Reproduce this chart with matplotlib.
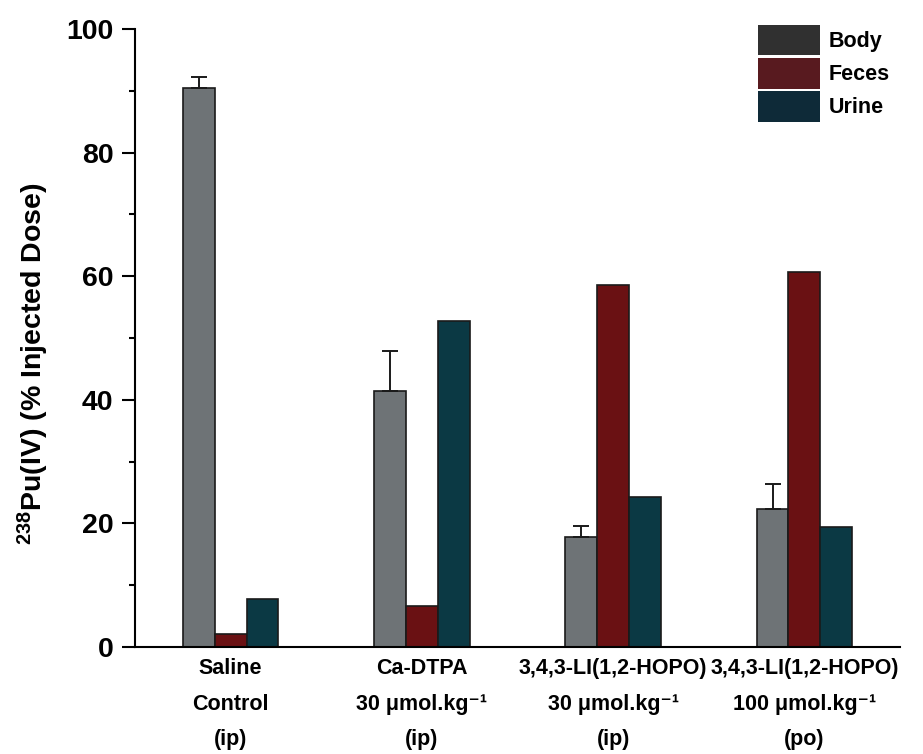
import matplotlib
matplotlib.use("Agg")
import matplotlib.pyplot as plt
import numpy as np
from matplotlib.patches import Patch

plt.rcParams['font.family'] = ['Liberation Sans', 'DejaVu Sans']
plt.rcParams['font.weight'] = 'bold'
plt.rcParams['mathtext.fontset'] = 'custom'
plt.rcParams['mathtext.rm'] = 'Liberation Sans:bold'
plt.rcParams['mathtext.bf'] = 'Liberation Sans:bold'
plt.rcParams['mathtext.it'] = 'Liberation Sans:bold'
plt.rcParams['mathtext.default'] = 'bf'

# Treatment groups
groups = [
    "Saline\nControl\n(ip)",
    "Ca-DTPA\n30 \u03bcmol.kg\u207b\u00b9\n(ip)",
    "3,4,3-LI(1,2-HOPO)\n30 \u03bcmol.kg\u207b\u00b9\n(ip)",
    "3,4,3-LI(1,2-HOPO)\n100 \u03bcmol.kg\u207b\u00b9\n(po)",
]

# Retained / excreted Pu, % of injected dose
body = [90.4, 41.4, 17.8, 22.3]
body_err = [1.8, 6.5, 1.7, 4.0]
feces = [2.1, 6.6, 58.6, 60.6]
urine = [7.7, 52.7, 24.2, 19.4]

series_names = ["Body", "Feces", "Urine"]

bar_colors = ["#6e7376", "#6a1113", "#0b3944"]
key_colors = ["#303030", "#581a1f", "#0e2a38"]

fig = plt.figure(figsize=(9.23, 7.54), dpi=100)
ax = fig.add_axes([135 / 923, 1 - 647 / 754, 765 / 923, 618 / 754])

x = np.arange(len(groups))
w = 1 / 6

ax.bar(x - w, body, w, color=bar_colors[0], edgecolor="#1a1a1a", linewidth=1.2,
       yerr=[np.zeros(len(body)), body_err],
       error_kw=dict(ecolor="#1a1a1a", elinewidth=1.4, capsize=6, capthick=1.4))
ax.bar(x, feces, w, color=bar_colors[1], edgecolor="#1a1a1a", linewidth=1.2)
ax.bar(x + w, urine, w, color=bar_colors[2], edgecolor="#1a1a1a", linewidth=1.2)

ax.set_xlim(-0.5, len(groups) - 0.5)
ax.set_ylim(0, 100)
ax.set_yticks(np.arange(0, 101, 20))
ax.set_yticks(np.arange(10, 100, 20), minor=True)
ax.set_xticks(x)
ax.set_xticklabels(groups, fontsize=15.5, fontweight="bold", linespacing=1.9)

ax.spines["top"].set_visible(False)
ax.spines["right"].set_visible(False)
ax.spines["left"].set_linewidth(1.5)
ax.spines["bottom"].set_linewidth(1.5)

ax.tick_params(axis="y", which="major", length=9.5, width=1.5, direction="out",
               labelsize=20.5, pad=6)
ax.tick_params(axis="y", which="minor", length=4.5, width=1.5, direction="out")
ax.tick_params(axis="x", length=0, pad=8)
for lab in ax.get_yticklabels():
    lab.set_fontweight("bold")

ax.set_ylabel("$^{238}$Pu(IV) (% Injected Dose)", fontsize=20.5, fontweight="bold")
ax.yaxis.set_label_coords(-0.11, 0.458)

handles = [Patch(facecolor=c, edgecolor="none") for c in key_colors]
fig.legend(handles, series_names, loc="upper left",
           bbox_to_anchor=(758 / 923, 1 - 25 / 754), frameon=False,
           prop=dict(size=15.5, weight="bold"), handlelength=2.9,
           handleheight=1.8, labelspacing=0.12, handletextpad=0.4,
           borderpad=0, borderaxespad=0)

fig.savefig("out.png", dpi=100)
